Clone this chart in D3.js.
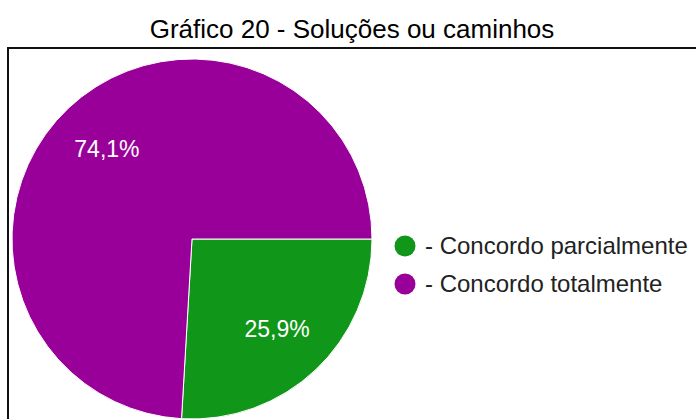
<!DOCTYPE html>
<html>
<head>
<meta charset="utf-8">
<script src="https://cdn.jsdelivr.net/npm/d3@7"></script>
<style>
  body { margin: 0; background: #fff; }
  svg { display: block; font-family: Arial, "Liberation Sans", sans-serif; }
</style>
</head>
<body>
<div id="chart"></div>
<script>
var title = "Gráfico 20 - Soluções ou caminhos";
var categories = ["- Concordo parcialmente", "- Concordo totalmente"];
var values = [7, 20];
var colors = ["#109618", "#990099"];

var width = 696, height = 419;
var cx = 192, cy = 239, radius = 180;

var svg = d3.select("#chart").append("svg")
    .attr("width", width)
    .attr("height", height);

svg.append("text")
    .attr("x", 352)
    .attr("y", 38)
    .attr("text-anchor", "middle")
    .attr("font-size", 26)
    .attr("fill", "#000")
    .text(title);

// frame, runs off the right and bottom edge
svg.append("rect")
    .attr("x", 8)
    .attr("y", 48)
    .attr("width", 700)
    .attr("height", 400)
    .attr("fill", "none")
    .attr("stroke", "#111")
    .attr("stroke-width", 2);

var data = categories.map(function (c, i) {
    return { name: c, value: values[i], color: colors[i] };
});
var total = d3.sum(values);

var pie = d3.pie()
    .sort(null)
    .value(function (d) { return d.value; })
    .startAngle(Math.PI / 2)
    .endAngle(Math.PI / 2 + 2 * Math.PI);

var arc = d3.arc().innerRadius(0).outerRadius(radius);
var labelArc = d3.arc().innerRadius(124).outerRadius(124);

var g = svg.append("g").attr("transform", "translate(" + cx + "," + cy + ")");

var slices = g.selectAll("g.slice")
    .data(pie(data)).enter().append("g")
    .attr("class", "slice");

slices.append("path")
    .attr("d", arc)
    .attr("fill", function (d) { return d.data.color; })
    .attr("stroke", "#fff")
    .attr("stroke-width", 1);

slices.append("text")
    .attr("transform", function (d) {
        return "translate(" + labelArc.centroid(d) + ")";
    })
    .attr("text-anchor", "middle")
    .attr("dy", "0.35em")
    .attr("font-size", 23)
    .attr("fill", "#fff")
    .text(function (d) {
        return (d.data.value / total * 100).toFixed(1).replace(".", ",") + "%";
    });

var legend = svg.append("g").attr("transform", "translate(405,246)");
var item = legend.selectAll("g")
    .data(data).enter().append("g")
    .attr("transform", function (d, i) { return "translate(0," + (i * 38) + ")"; });

item.append("circle")
    .attr("r", 10.5)
    .attr("fill", function (d) { return d.color; });

item.append("text")
    .attr("x", 20)
    .attr("dy", "0.35em")
    .attr("font-size", 24)
    .attr("fill", "#222")
    .text(function (d) { return d.name; });
</script>
</body>
</html>
